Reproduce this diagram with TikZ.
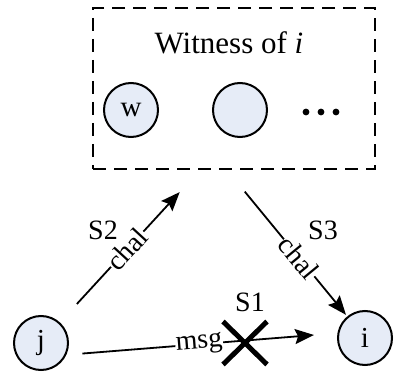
\documentclass[tikz,border=0pt]{standalone}
\usepackage{fontspec}
\setmainfont{Liberation Serif}
\usetikzlibrary{arrows.meta}
\definecolor{nodefill}{RGB}{230,236,247}
\tikzset{
  txt/.style={font=\fontsize{28}{33}\selectfont, inner sep=1pt},
  peer/.style={circle, draw, line width=2pt, fill=nodefill, minimum size=54pt, inner sep=0pt, font=\fontsize{29}{34}\selectfont},
  group/.style={draw, dash pattern=on 13pt off 8pt, line width=1.8pt, minimum width=282pt, minimum height=161pt, inner sep=0pt},
  arr/.style={line width=1.8pt, -{Stealth[length=19pt,width=15pt,inset=3pt]}},
  lbl/.style={font=\fontsize{28}{33}\selectfont, fill=white, sloped, inner sep=0.5pt},
  crossmark/.style={line width=5pt}
}
\begin{document}
\begin{tikzpicture}[x=1pt,y=-1pt]
  \useasboundingbox (0,0) rectangle (394,374);

  % witness group
  \node[group] (box) at (234,88.5) {};
  \node[font=\fontsize{31}{36}\selectfont, inner sep=1pt] (title) at (229,43) {Witness of \textit{i}};
  \node[peer] (w) at (131,110) {w};
  \node[peer] (w2) at (240,110) {};
  \node[minimum size=6pt, inner sep=0pt] (dots) at (321,112) {};
  \foreach \dx in {-15,0,15} \fill ([xshift=\dx pt]dots.center) circle (3.4pt);

  % end points
  \node[peer] (j) at (41,343) {j};
  \node[peer] (i) at (365,338) {i};
  \coordinate (b2) at (200,170);
  \coordinate (b3) at (227,170);

  % S2: challenge from j to the witnesses
  \draw[arr, shorten <=25pt, shorten >=30pt] (j) -- node[lbl, pos=0.48] {chal} (b2);
  \node[txt] (s2) at (103,230) {S2};

  % S3: challenge forwarded to i
  \draw[arr, shorten <=28pt, shorten >=2pt] (b3) -- node[lbl, pos=0.60] {chal} (i);
  \node[txt] (s3) at (323,230) {S3};

  % S1: direct message, blocked
  \draw[arr, shorten <=16pt, shorten >=23.5pt] (j.-25) -- node[lbl, pos=0.49] {msg} (i.170);
  \node (xm) at (245,343) {};
  \draw[crossmark] ([shift={(-22,-21.5)}]xm.center) -- ([shift={(22,21.5)}]xm.center);
  \draw[crossmark] ([shift={(-22,21.5)}]xm.center) -- ([shift={(22,-21.5)}]xm.center);
  \node[txt] (s1) at (250,302) {S1};
\end{tikzpicture}
\end{document}
